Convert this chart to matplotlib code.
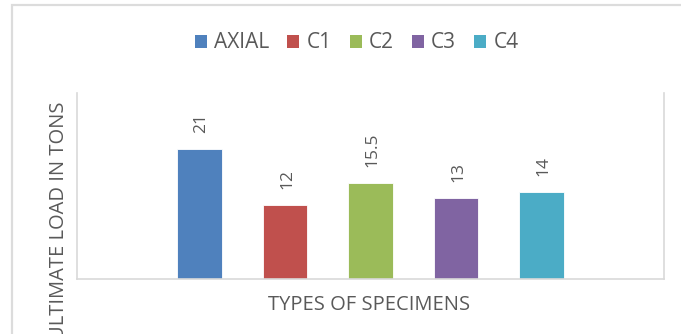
import matplotlib.pyplot as plt
from matplotlib.patches import Patch, Rectangle

# 试件类型与极限荷载（吨）
specimens = ["AXIAL", "C1", "C2", "C3", "C4"]
loads = [21, 12, 15.5, 13, 14]
colors = ["#4f81bd", "#c0504d", "#9bbb59", "#8064a2", "#4bacc6"]

plt.rcParams['font.family'] = ['Open Sans', 'DejaVu Sans']
text_gray = "#595959"
line_gray = "#d9d9d9"

W, H = 681, 334
fig = plt.figure(figsize=(W / 100, H / 100), dpi=100)

# 整个图表的外框（右侧和下方被裁掉）
fig.patches.append(Rectangle((12 / W, -0.1), 2, (H - 5) / H + 0.1,
                             transform=fig.transFigure, fill=False,
                             ec="#dcdcdc", lw=1.6))

ax = fig.add_axes([77 / W, (H - 279) / H, (664 - 77) / W, (279 - 93) / H])

xs = list(range(len(specimens)))
ax.bar(xs, loads, width=0.526, color=colors, edgecolor="white", linewidth=0.6)

# 柱顶竖排数值
for x, v in zip(xs, loads):
    ax.annotate(f"{v:g}", (x, v), xytext=(1.5, 11.5), textcoords="offset points",
                rotation=90, ha="center", va="bottom", fontsize=12.5, color=text_gray)

ax.set_xlim(-1.433, 4 + 1.433)
ax.set_ylim(0, 30)
ax.set_xticks([])
ax.set_yticks([])
ax.spines["top"].set_visible(False)
for s in ["left", "bottom", "right"]:
    ax.spines[s].set_color(line_gray)
    ax.spines[s].set_linewidth(1.2)

fig.text(369 / W, 1 - 305 / H, "TYPES OF SPECIMENS", ha="center", va="center",
         fontsize=14.5, color=text_gray)
fig.text(59 / W, 1 - 102 / H, "ULTIMATE LOAD IN TONS", rotation=90,
         ha="center", va="top", fontsize=14.5, color=text_gray)

handles = [Patch(facecolor=c, label=s) for c, s in zip(colors, specimens)]
fig.legend(handles=handles, loc="center", bbox_to_anchor=(356.5 / W, 1 - 43 / H),
           ncol=5, frameon=False, fontsize=15, labelcolor=text_gray,
           handlelength=0.58, handleheight=0.58, handletextpad=0.34,
           columnspacing=0.87)

fig.savefig("out.png", dpi=100)
